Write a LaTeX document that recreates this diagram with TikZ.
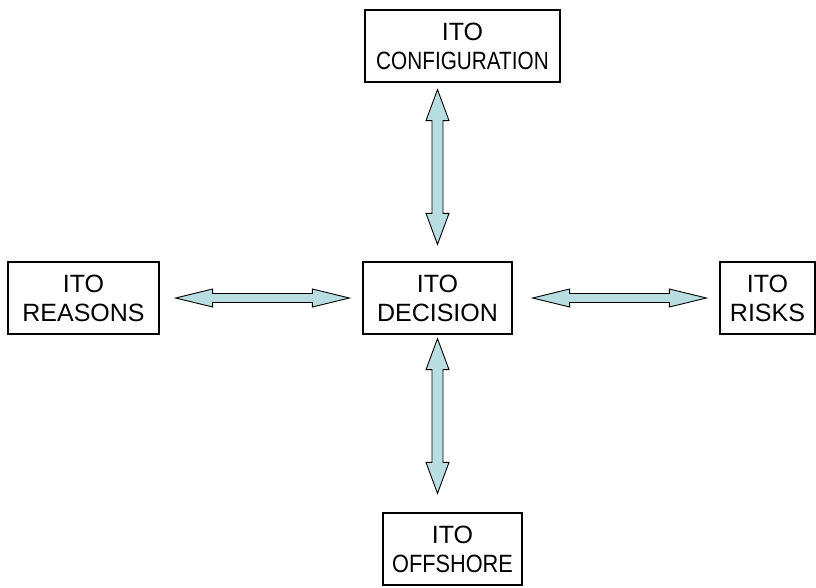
\documentclass[tikz,border=0pt]{standalone}
\usepackage{fontspec}
\setmainfont{Liberation Sans}
\usepackage{graphicx}
\usetikzlibrary{calc}
\definecolor{arrowfill}{RGB}{184,222,225}

\begin{document}
\begin{tikzpicture}
[
    x=1pt, y=-1pt,
    box/.style={draw, line width=1.2pt, align=center, inner sep=0pt,
        minimum height=72pt, font=\fontsize{25}{29}\selectfont},
    fatarrow/.style n args={3}{draw, fill=arrowfill, line width=0.9pt, line join=miter,
        to path={(\tikztostart)
        -- ($(\tikztostart)!#1!(\tikztotarget)!#2!90:(\tikztotarget)$)
        -- ($(\tikztostart)!#1!(\tikztotarget)!#3!90:(\tikztotarget)$)
        -- ($(\tikztotarget)!#1!(\tikztostart)!#3!-90:(\tikztostart)$)
        -- ($(\tikztotarget)!#1!(\tikztostart)!#2!-90:(\tikztostart)$)
        -- (\tikztotarget)
        -- ($(\tikztotarget)!#1!(\tikztostart)!#2!90:(\tikztostart)$)
        -- ($(\tikztotarget)!#1!(\tikztostart)!#3!90:(\tikztostart)$)
        -- ($(\tikztostart)!#1!(\tikztotarget)!#3!-90:(\tikztotarget)$)
        -- ($(\tikztostart)!#1!(\tikztotarget)!#2!-90:(\tikztotarget)$)
        -- cycle}},
    varrow/.style={fatarrow={31pt}{11.5pt}{5.5pt}},
    harrow/.style={fatarrow={37pt}{9pt}{4.5pt}},
]
\useasboundingbox (0,0) rectangle (816,587);

% boxes
\node[box, minimum width=149pt] (decision) at (437.5,298) {ITO\\DECISION};
\node[box, minimum width=195pt] (config) at (462.5,46) {ITO\\\scalebox{0.83}[1]{CONFIGURATION}};
\node[box, minimum width=151pt] (reasons) at (83.5,298) {ITO\\REASONS};
\node[box, minimum width=95pt] (risks) at (767.5,298) {ITO\\RISKS};
\node[box, minimum width=139pt] (offshore) at (452.5,549) {ITO\\\scalebox{0.87}[1]{OFFSHORE}};

% arrows
\draw[varrow] ($(decision.north)+(0,-17)$) to ($(decision.north |- config.south)+(0,7)$);
\draw[varrow] ($(decision.south)+(0,4)$) to ($(decision.south |- offshore.north)+(0,-19)$);
\draw[harrow] ($(decision.west)+(-13,0)$) to ($(reasons.east)+(16,0)$);
\draw[harrow] ($(decision.east)+(20,0)$) to ($(risks.west)+(-13,0)$);
\end{tikzpicture}
\end{document}
